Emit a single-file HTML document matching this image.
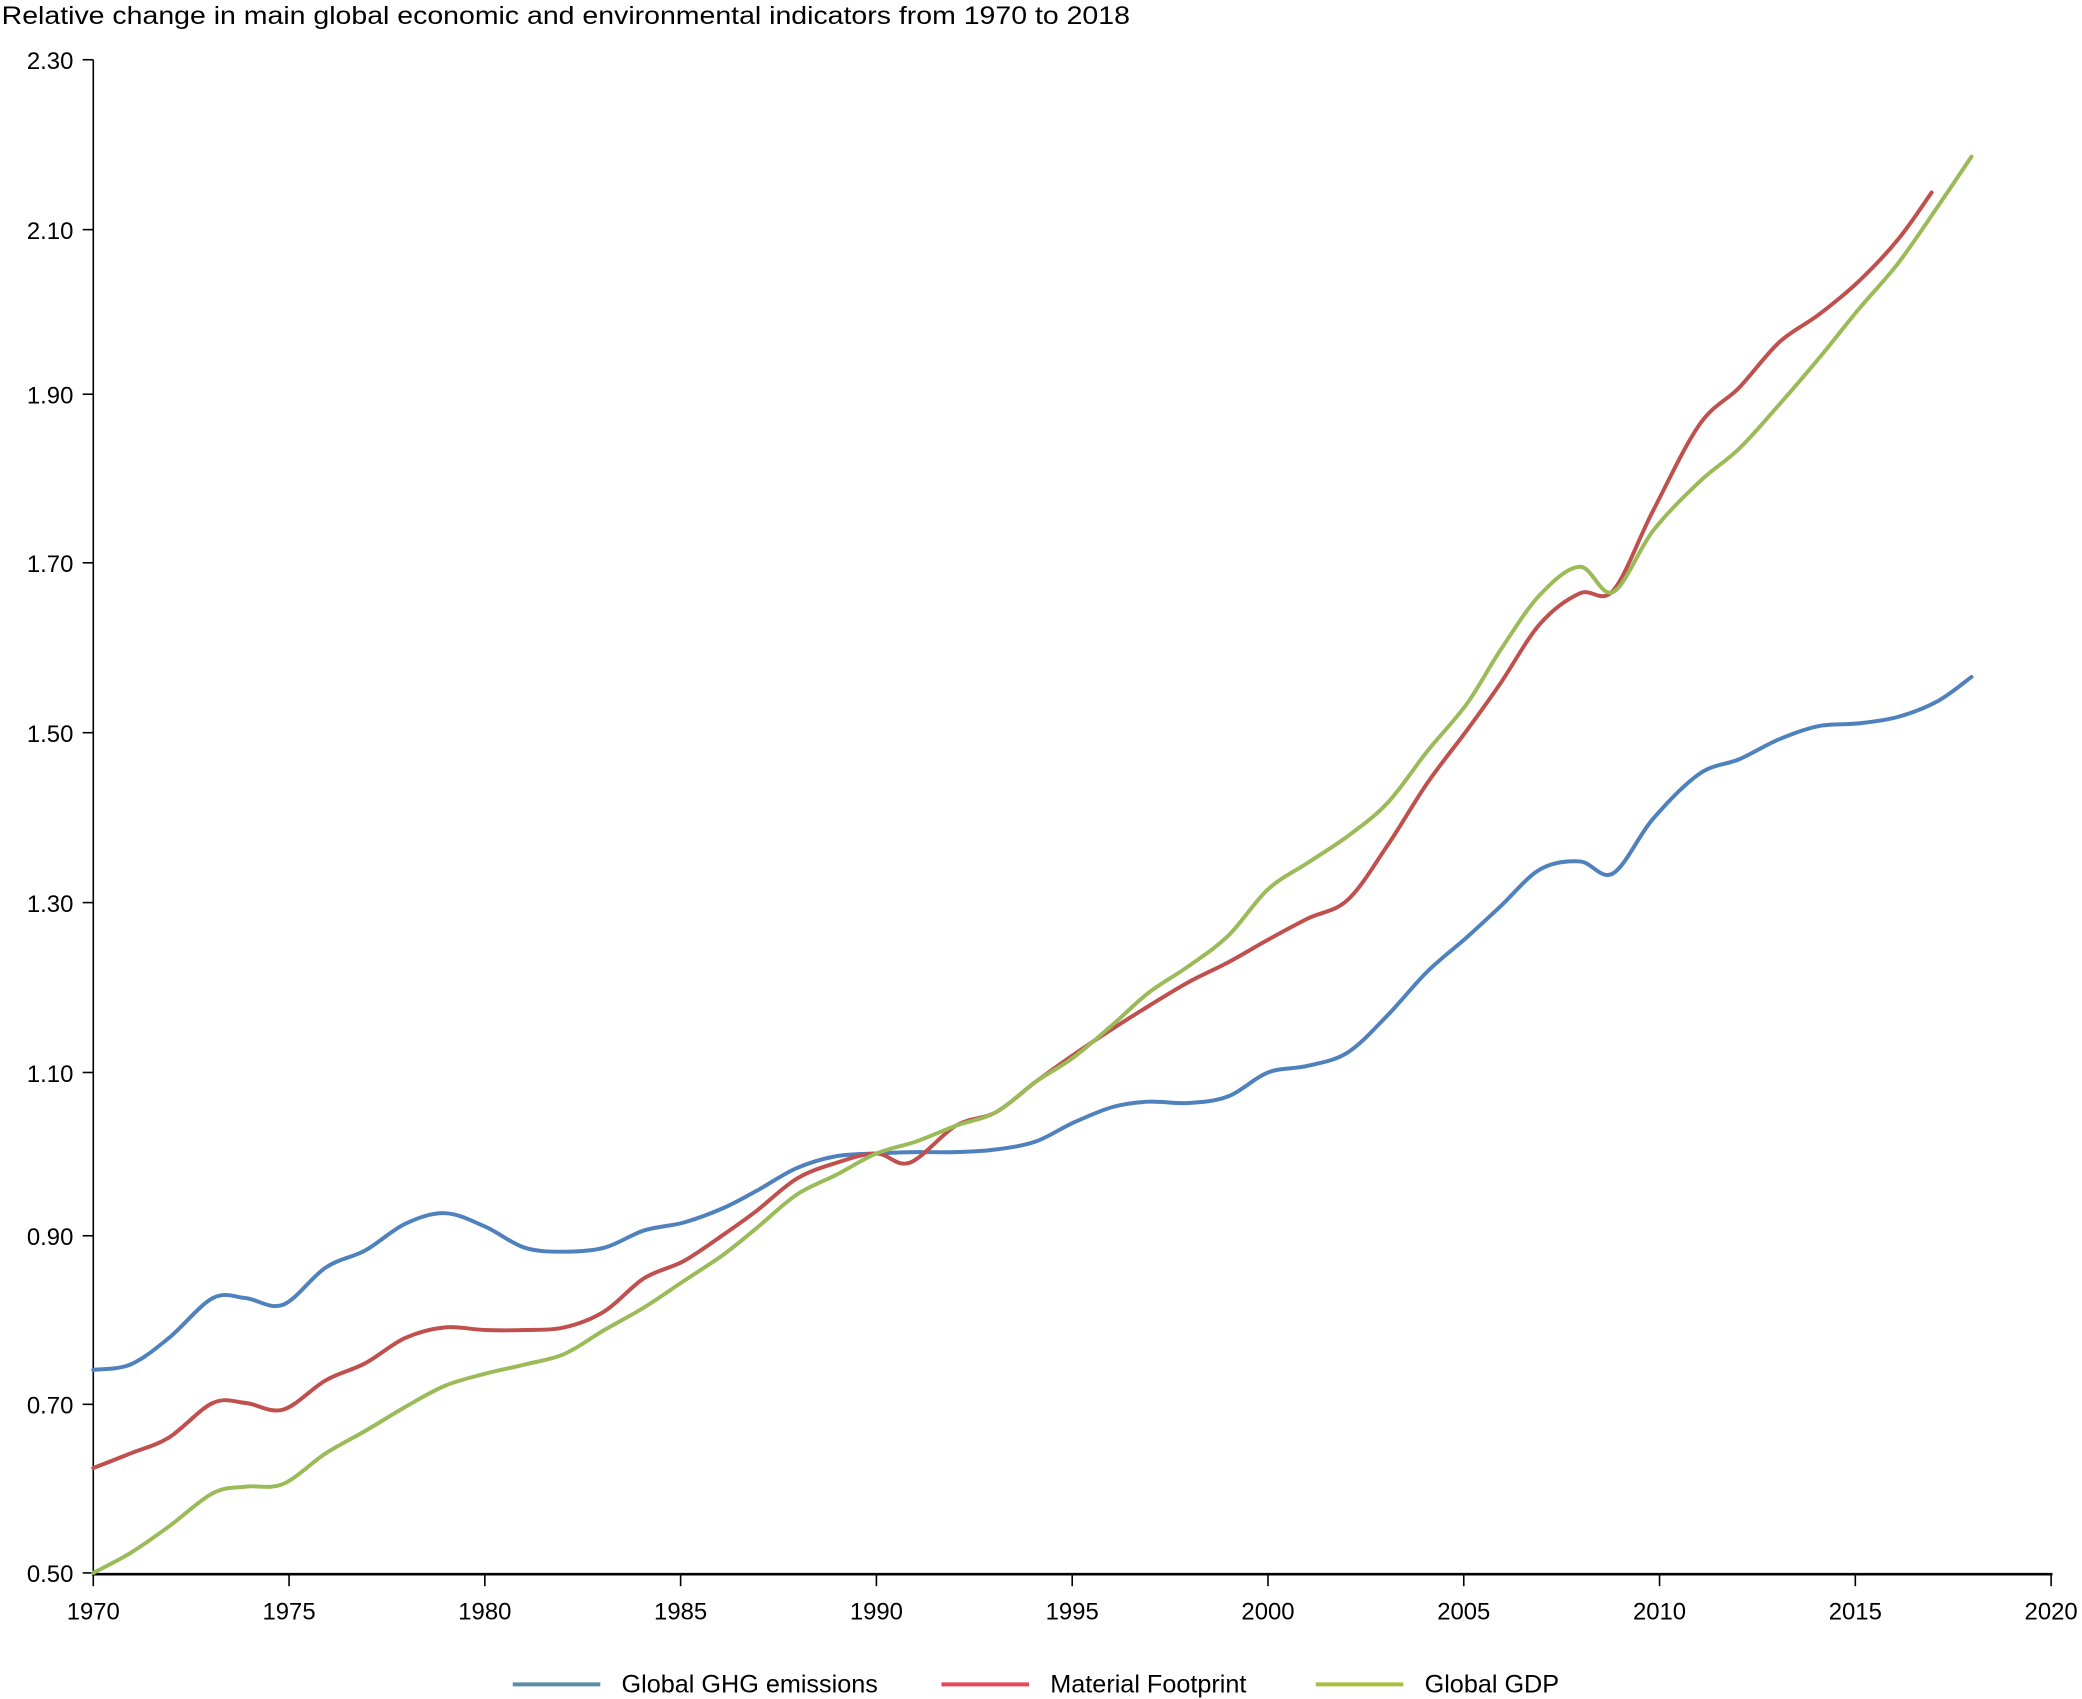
<!DOCTYPE html>
<html><head><meta charset="utf-8"><style>html,body{margin:0;padding:0;background:#fff}svg{display:block}text{font-family:"Liberation Sans",sans-serif;fill:#000}</style></head><body>
<svg id="s" width="2082" height="1699" viewBox="0 0 1568 1280" xmlns="http://www.w3.org/2000/svg">
<text x="1" y="18" font-size="19" textLength="850" lengthAdjust="spacingAndGlyphs">Relative change in main global economic and environmental indicators from 1970 to 2018</text>
<g stroke="#000" stroke-width="1.2" fill="none">
<line x1="70" y1="45" x2="70" y2="1186"/>
<line x1="69" y1="1186" x2="1546" y2="1186" stroke-width="2"/>
<line x1="62" y1="45" x2="70" y2="45"/><line x1="62" y1="173" x2="70" y2="173"/><line x1="62" y1="297" x2="70" y2="297"/><line x1="62" y1="424" x2="70" y2="424"/><line x1="62" y1="552" x2="70" y2="552"/><line x1="62" y1="680" x2="70" y2="680"/><line x1="62" y1="808" x2="70" y2="808"/><line x1="62" y1="931" x2="70" y2="931"/><line x1="62" y1="1058" x2="70" y2="1058"/><line x1="62" y1="1185" x2="70" y2="1185"/>
<line x1="70" y1="1186" x2="70" y2="1195"/><line x1="217.5" y1="1186" x2="217.5" y2="1195"/><line x1="365" y1="1186" x2="365" y2="1195"/><line x1="512.5" y1="1186" x2="512.5" y2="1195"/><line x1="660" y1="1186" x2="660" y2="1195"/><line x1="807.5" y1="1186" x2="807.5" y2="1195"/><line x1="955" y1="1186" x2="955" y2="1195"/><line x1="1102.5" y1="1186" x2="1102.5" y2="1195"/><line x1="1250" y1="1186" x2="1250" y2="1195"/><line x1="1397.5" y1="1186" x2="1397.5" y2="1195"/><line x1="1545" y1="1186" x2="1545" y2="1195"/>
</g>
<g font-size="18" text-anchor="end">
<text x="55" y="52">2.30</text><text x="55" y="180">2.10</text><text x="55" y="304">1.90</text><text x="55" y="431">1.70</text><text x="55" y="559">1.50</text><text x="55" y="687">1.30</text><text x="55" y="815">1.10</text><text x="55" y="938">0.90</text><text x="55" y="1065">0.70</text><text x="55" y="1192">0.50</text>
</g>
<g font-size="18" text-anchor="middle">
<text x="70" y="1220">1970</text><text x="217.5" y="1220">1975</text><text x="365" y="1220">1980</text><text x="512.5" y="1220">1985</text><text x="660" y="1220">1990</text><text x="807.5" y="1220">1995</text><text x="955" y="1220">2000</text><text x="1102.5" y="1220">2005</text><text x="1250" y="1220">2010</text><text x="1397.5" y="1220">2015</text><text x="1545" y="1220">2020</text>
</g>
<g fill="none" stroke-width="3" stroke-linejoin="round" stroke-linecap="round">
<polyline class="sm" stroke="#4f81bd" points="70,1032 98,1028 127,1008 160,978 185,978 213,983 245,955 275,942 305,922 335,914 365,924 395,940 425,943 455,940 485,927 515,921 545,910 570,897 600,880 630,871 660,869 690,868 720,868 750,866 780,860 808,846 838,834 865,830 895,831 925,826 955,808 985,803 1015,793 1045,765 1075,732 1105,706 1130,683 1160,655 1190,649 1215,658 1245,617 1280,583 1310,572 1340,557 1370,547 1400,545 1430,540 1460,528 1485,510"/>
<polyline class="sm" stroke="#c0504d" points="70,1106 98,1095 127,1083 160,1057 185,1057 213,1062 245,1040 275,1027 305,1008 335,1000 365,1002 395,1002 425,1000 455,988 485,963 515,950 545,930 570,912 600,888 630,876 660,869 685,876 720,848 750,838 780,815 808,795 838,775 865,758 895,740 925,725 955,708 985,692 1015,678 1045,637 1075,590 1105,550 1130,515 1160,470 1190,447 1215,445 1245,385 1280,320 1310,292 1340,258 1370,237 1400,212 1430,180 1455,145"/>
<polyline class="sm" stroke="#9bbb59" points="70,1185 98,1170 127,1150 160,1125 185,1120 213,1118 245,1095 275,1078 305,1060 335,1044 365,1035 395,1028 425,1020 455,1002 485,985 515,965 545,945 570,925 600,900 630,885 660,869 690,860 720,848 750,838 780,815 808,797 838,772 865,748 895,728 925,705 955,670 985,650 1015,630 1045,605 1075,566 1105,530 1130,490 1160,448 1190,427 1215,446 1245,400 1280,363 1310,338 1340,305 1370,270 1400,233 1430,198 1460,155 1485,118"/>
</g>
<g stroke-width="3">
<line x1="386" y1="1269" x2="452" y2="1269" stroke="#5b8fa8"/>
<line x1="709" y1="1269" x2="775" y2="1269" stroke="#e8445a"/>
<line x1="991" y1="1269" x2="1057" y2="1269" stroke="#a8c040"/>
</g>
<g font-size="19">
<text x="468" y="1275">Global GHG emissions</text>
<text x="791" y="1275">Material Footprint</text>
<text x="1073" y="1275">Global GDP</text>
</g>
</svg>
<script>
document.querySelectorAll('polyline.sm').forEach(function(pl){
  var p=pl.getAttribute('points').trim().split(/\s+/).map(function(s){return s.split(',').map(Number);});
  var d='M'+p[0][0]+','+p[0][1];
  for(var i=0;i<p.length-1;i++){
    var p0=p[i-1]||p[i],p1=p[i],p2=p[i+1],p3=p[i+2]||p2;
    var c1x=p1[0]+(p2[0]-p0[0])/6,c1y=p1[1]+(p2[1]-p0[1])/6;
    var c2x=p2[0]-(p3[0]-p1[0])/6,c2y=p2[1]-(p3[1]-p1[1])/6;
    d+=' C'+c1x+','+c1y+' '+c2x+','+c2y+' '+p2[0]+','+p2[1];
  }
  var path=document.createElementNS('http://www.w3.org/2000/svg','path');
  path.setAttribute('d',d);path.setAttribute('stroke',pl.getAttribute('stroke'));
  pl.parentNode.replaceChild(path,pl);
});
</script>
</body></html>
